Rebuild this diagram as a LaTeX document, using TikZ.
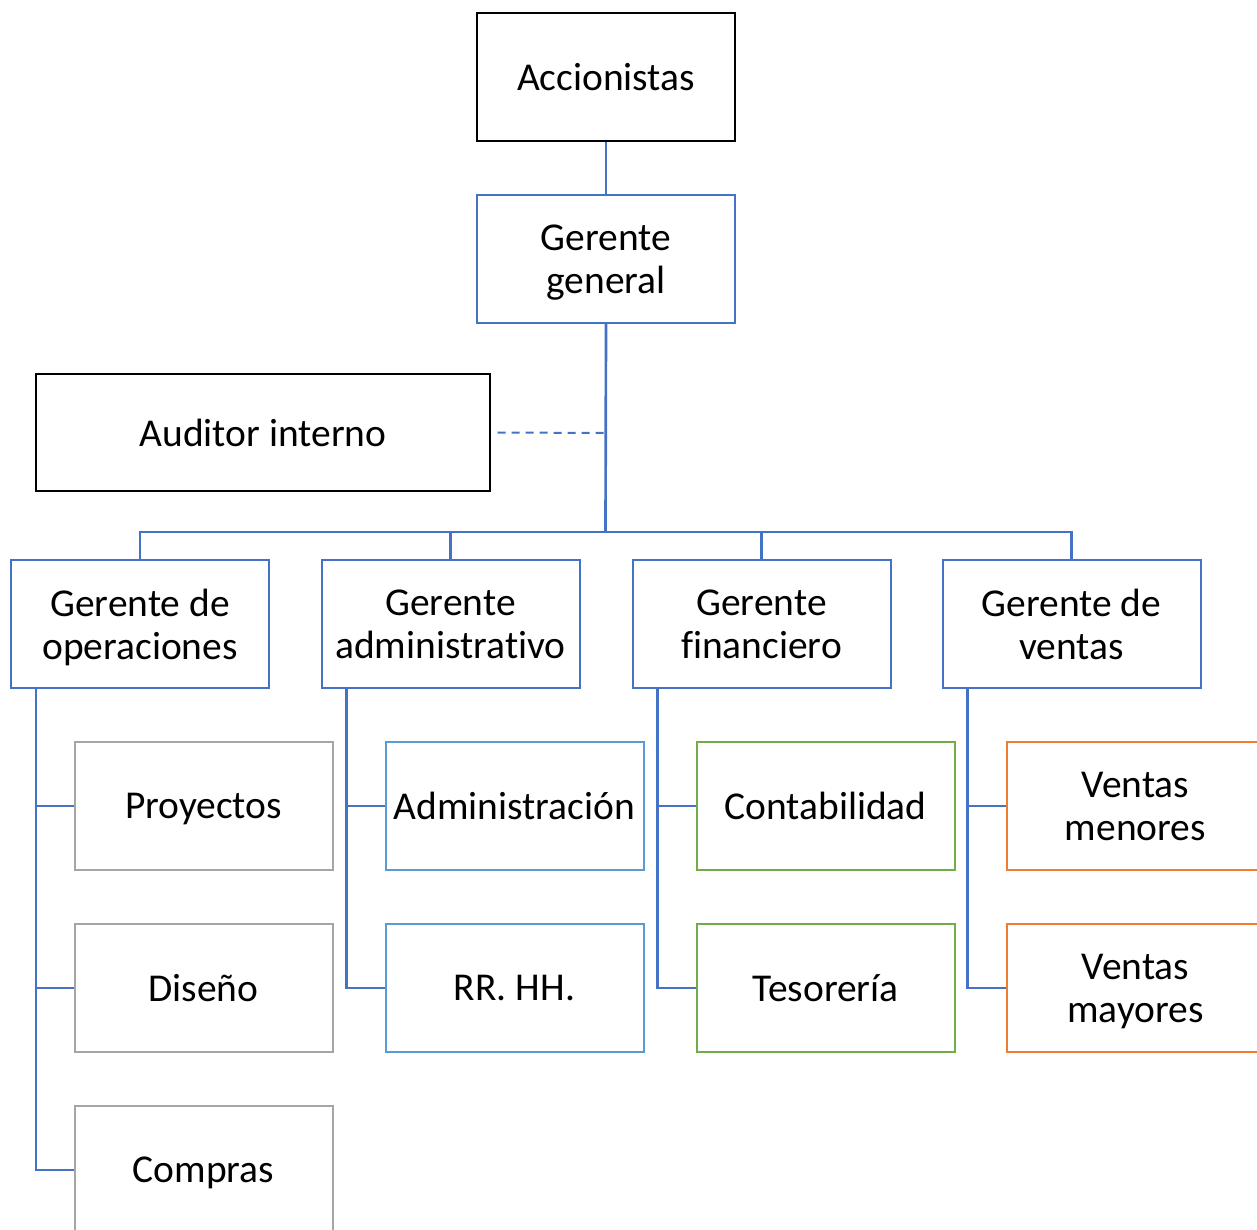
\documentclass[tikz,border=0pt]{standalone}
\usepackage{fontspec}
\setmainfont{Carlito}[Ligatures=NoCommon]
\definecolor{oblue}{HTML}{4472C4}
\definecolor{ogray}{HTML}{A5A5A5}
\definecolor{olblue}{HTML}{5B9BD5}
\definecolor{ogreen}{HTML}{70AD47}
\definecolor{oorange}{HTML}{ED7D31}
\tikzset{
  box/.style={draw, line width=1.5pt, rectangle, inner sep=0pt, align=center,
    minimum width=193.5pt, minimum height=96pt, text depth=0pt,
    font=\fontsize{29.6pt}{32.3pt}\selectfont},
  blackbox/.style={box, draw=black},
  bluebox/.style={box, draw=oblue},
  graybox/.style={box, draw=ogray},
  lbluebox/.style={box, draw=olblue},
  greenbox/.style={box, draw=ogreen},
  orangebox/.style={box, draw=oorange},
  conn/.style={draw=oblue, line width=2pt},
  dconn/.style={draw=oblue, line width=1.5pt, dash pattern=on 6pt off 4.5pt}
}
\begin{document}
\begin{tikzpicture}[x=0.75pt, y=-0.75pt]
\useasboundingbox (0,0) rectangle (1257,1230);
\begin{scope}
\clip (0,0) rectangle (1257,1230);
% top
\node[blackbox] (acc) at (606,77) {Accionistas};
\node[bluebox] (gg) at (606,259) {Gerente\\general};
\node[blackbox, minimum width=340.5pt, minimum height=87.75pt] (aud) at (263,432.5) {Auditor interno};
% level 2
\node[bluebox] (g1) at (140,624) {Gerente de\\operaciones};
\node[bluebox] (g2) at (450.5,624) {Gerente\\administrativo};
\node[bluebox] (g3) at (761.5,624) {Gerente\\financiero};
\node[bluebox] (g4) at (1071.5,624) {Gerente de\\ventas};
% level 3
\node[graybox] (p1) at (203.5,806) {Proyectos};
\node[graybox] (p2) at (203.5,988) {Diseño};
\node[graybox] (p3) at (203.5,1170) {Compras};
\node[lbluebox] (a1) at (514.5,806) {Administración};
\node[lbluebox] (a2) at (514.5,988) {RR. HH.};
\node[greenbox] (f1) at (825.5,806) {Contabilidad};
\node[greenbox] (f2) at (825.5,988) {Tesorería};
\node[orangebox] (v1) at (1135.5,806) {Ventas\\menores};
\node[orangebox] (v2) at (1135.5,988) {Ventas\\mayores};
% coordinates
\coordinate (hub) at (605.5,532);
\coordinate (dj) at (605.5,433);
% connectors
\draw[conn] (acc.south) -- (gg.north);
\draw[conn] (gg.south) -- (hub);
\draw[dconn] ([xshift=5pt]aud.east) -- (dj);
\draw[conn] (g1.north) |- (hub) -| (g4.north);
\draw[conn] (g2.north) |- (hub);
\draw[conn] (g3.north) |- (hub);
% level 3 connectors
\draw[conn] ([xshift=19.5pt]g1.south west) |- (p3.west);
\draw[conn] ([xshift=19.5pt]g1.south west) |- (p1.west);
\draw[conn] ([xshift=19.5pt]g1.south west) |- (p2.west);
\draw[conn] ([xshift=19.5pt]g2.south west) |- (a2.west);
\draw[conn] ([xshift=19.5pt]g2.south west) |- (a1.west);
\draw[conn] ([xshift=19.5pt]g3.south west) |- (f2.west);
\draw[conn] ([xshift=19.5pt]g3.south west) |- (f1.west);
\draw[conn] ([xshift=19.5pt]g4.south west) |- (v2.west);
\draw[conn] ([xshift=19.5pt]g4.south west) |- (v1.west);
\end{scope}
\end{tikzpicture}
\end{document}
